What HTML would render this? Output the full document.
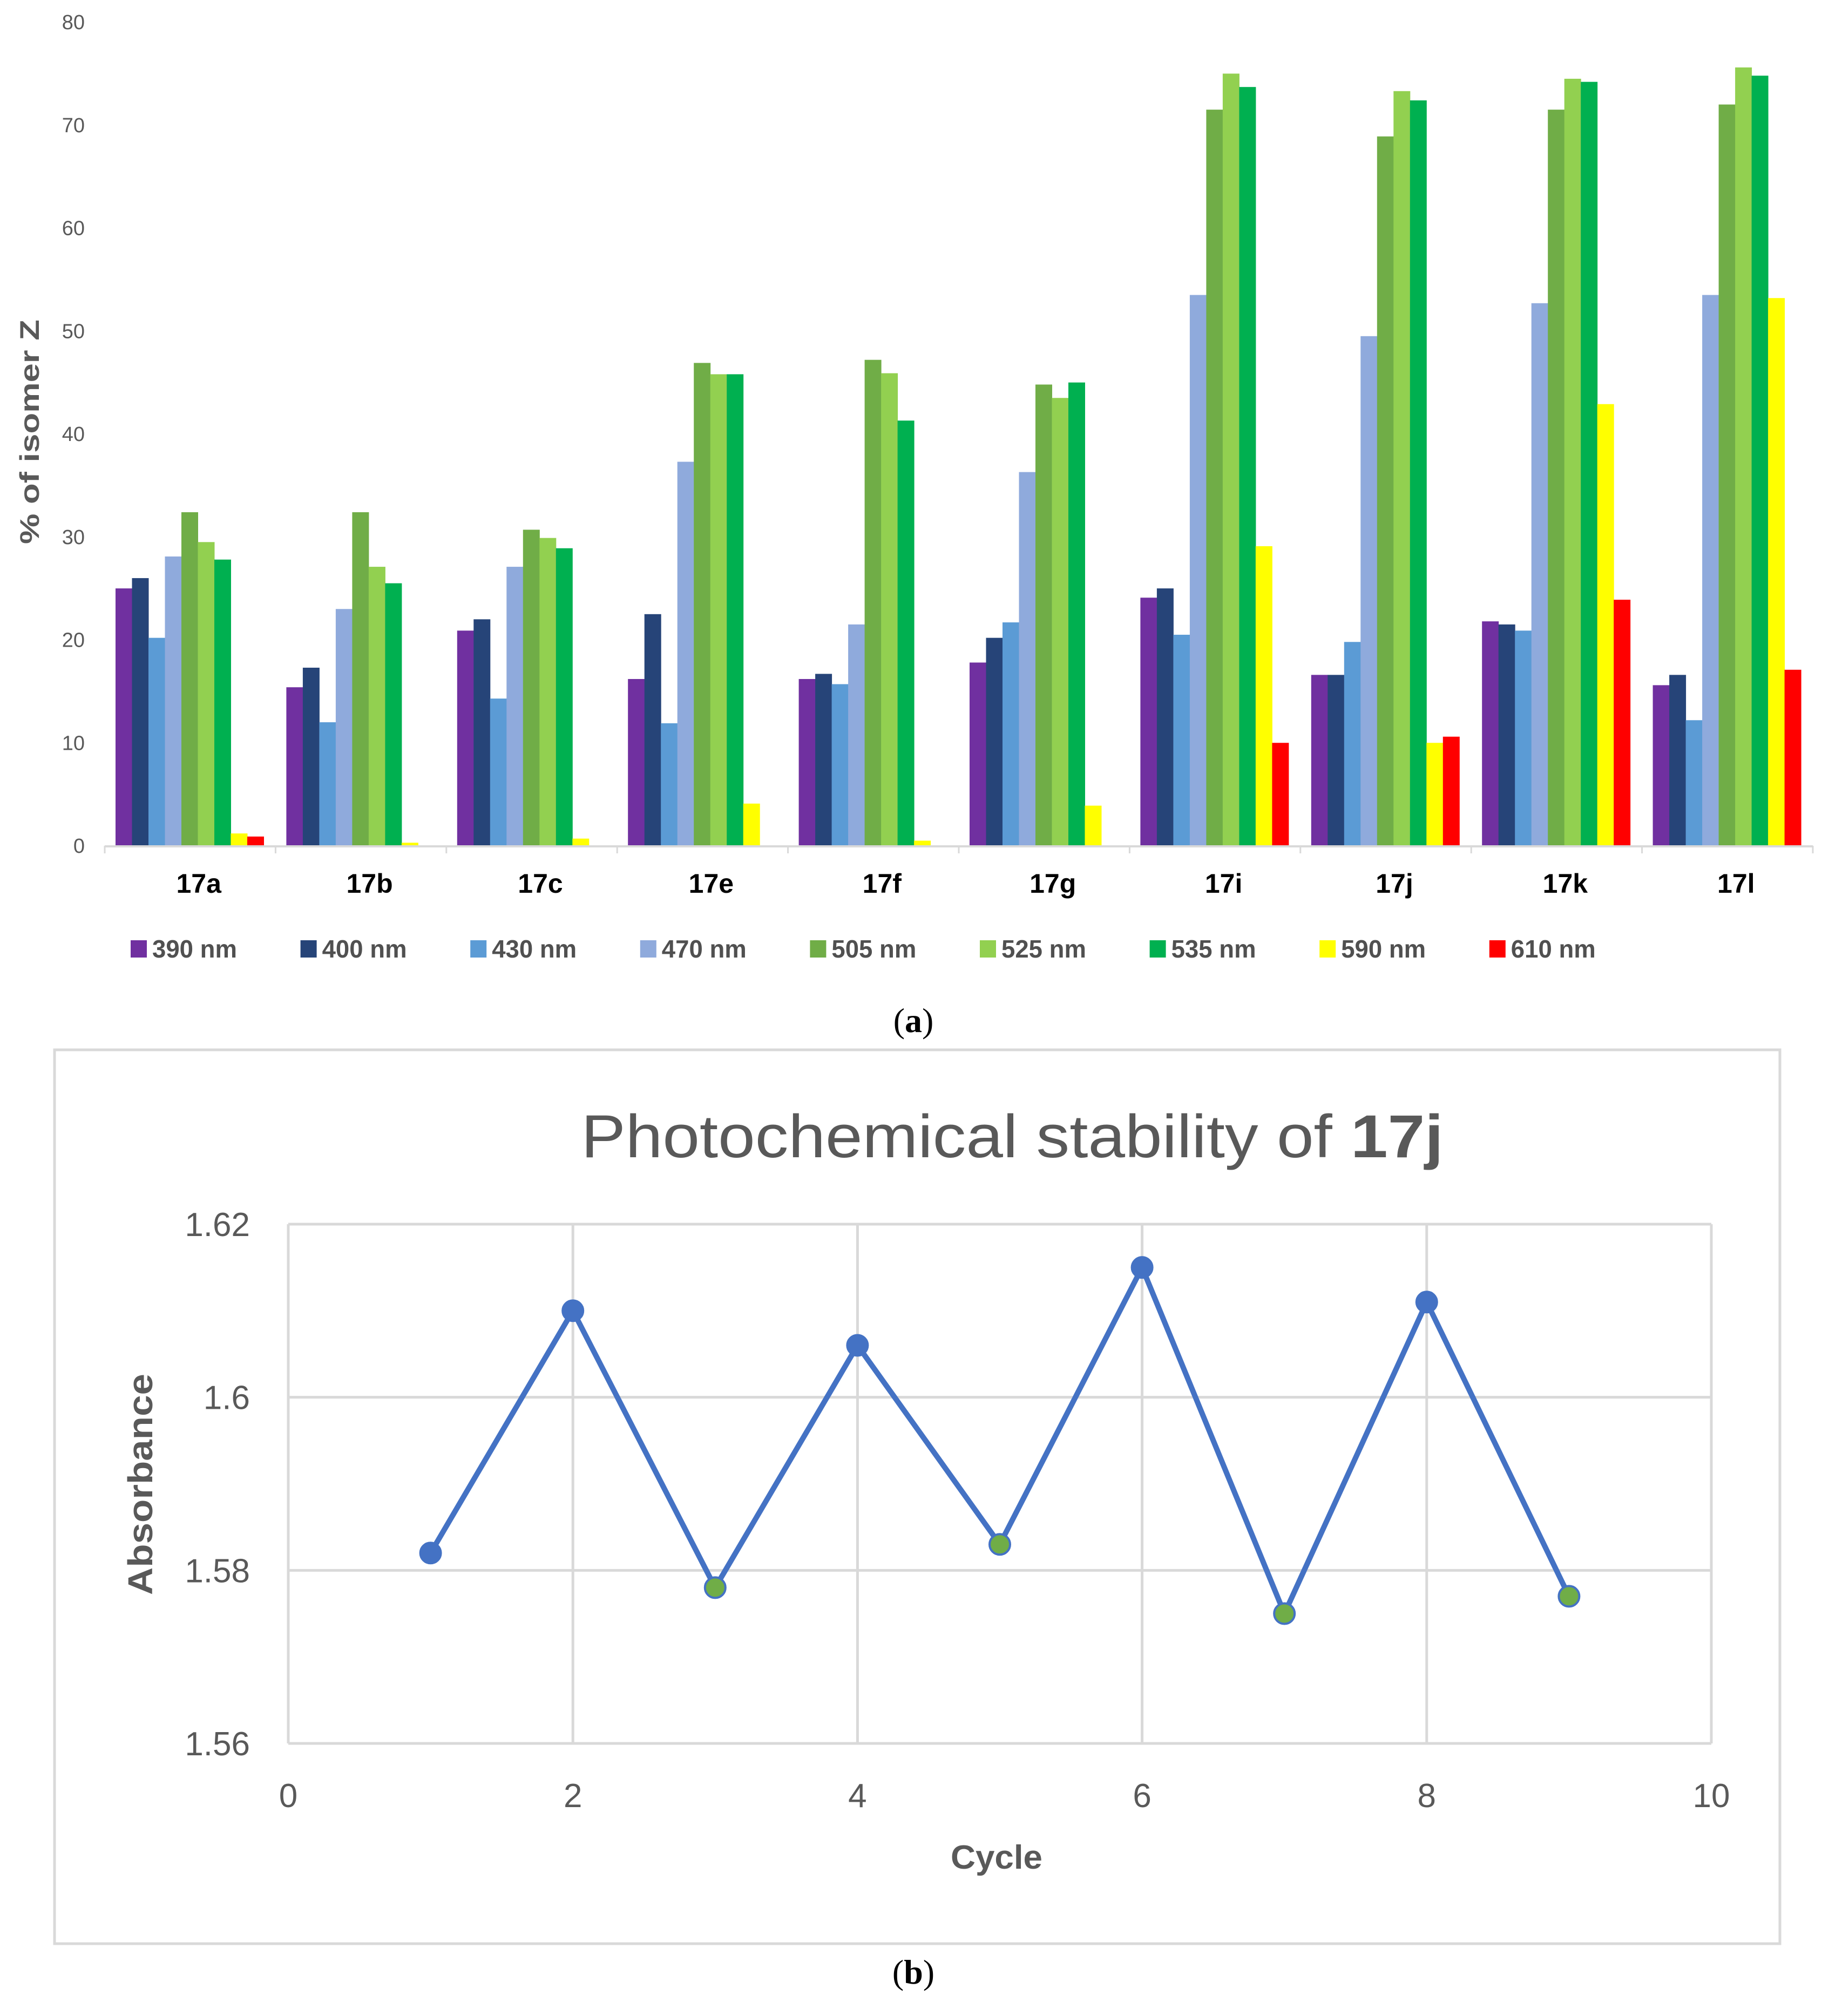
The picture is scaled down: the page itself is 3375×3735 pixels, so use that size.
<!DOCTYPE html>
<html><head><meta charset="utf-8"><style>
html,body{margin:0;padding:0;background:#fff;}
svg{display:block;}
</style></head><body>
<svg id="fig" width="3375" height="3735" viewBox="0 0 3375 3735" xmlns="http://www.w3.org/2000/svg" font-family="Liberation Sans, sans-serif">
<g id="chartA"></g>
<text x="1692" y="1912" style="font-family:'Liberation Serif',serif" font-size="64" text-anchor="middle" fill="#000">(<tspan font-weight="bold">a</tspan>)</text>
<rect x="101" y="1945" width="3196" height="1656" fill="#fff" stroke="#d9d9d9" stroke-width="5"/>
<text x="1875" y="2144" font-size="112" fill="#595959" text-anchor="middle" textLength="1597" lengthAdjust="spacingAndGlyphs">Photochemical stability of <tspan font-weight="bold">17j</tspan></text>
<g id="chartB"></g>
<text x="1846" y="3462" font-size="62" font-weight="bold" fill="#595959" text-anchor="middle" textLength="170" lengthAdjust="spacingAndGlyphs">Cycle</text>
<text transform="translate(282,2750) rotate(-90)" font-size="64" font-weight="bold" fill="#595959" text-anchor="middle" textLength="410" lengthAdjust="spacingAndGlyphs">Absorbance</text>
<text x="1692" y="3675" style="font-family:'Liberation Serif',serif" font-size="64" text-anchor="middle" fill="#000">(<tspan font-weight="bold">b</tspan>)</text>
</svg>
<script>
const NS="http://www.w3.org/2000/svg";
const categories=["17a","17b","17c","17e","17f","17g","17i","17j","17k","17l"];
const seriesNames=["390 nm","400 nm","430 nm","470 nm","505 nm","525 nm","535 nm","590 nm","610 nm"];
const seriesColors=["#7030a0","#264478","#5b9bd5","#8faadc","#70ad47","#92d050","#00b050","#ffff00","#ff0000"];
const s390=[25,15.4,20.9,16.2,16.2,17.8,24.1,16.6,21.8,15.6];
const s400=[26,17.3,22,22.5,16.7,20.2,25,16.6,21.5,16.6];
const s430=[20.2,12,14.3,11.9,15.7,21.7,20.5,19.8,20.9,12.2];
const s470=[28.1,23,27.1,37.3,21.5,36.3,53.5,49.5,52.7,53.5];
const s505=[32.4,32.4,30.7,46.9,47.2,44.8,71.5,68.9,71.5,72];
const s525=[29.5,27.1,29.9,45.8,45.9,43.5,75,73.3,74.5,75.6];
const s535=[27.8,25.5,28.9,45.8,41.3,45,73.7,72.4,74.2,74.8];
const s590=[1.2,0.3,0.7,4.1,0.5,3.9,29.1,10,42.9,53.2];
const s610=[0.9,0,0,0,0,0,10,10.6,23.9,17.1];
const yTicksA=[0,10,20,30,40,50,60,70,80];
const cycles=[1,2,3,4,5,6,7,8,9];
const absorbance=[1.582,1.610,1.578,1.606,1.583,1.615,1.575,1.611,1.577];
const xTicksB=[0,2,4,6,8,10];
const yTicksB=[1.56,1.58,1.6,1.62];

const NARROW="'Liberation Sans Narrow','Liberation Sans',sans-serif";
function mk(tag,attrs,parent){const e=document.createElementNS(NS,tag);for(const k in attrs)e.setAttribute(k,attrs[k]);parent.appendChild(e);return e;}

// Chart A
const A=document.getElementById('chartA');
const series=[s390,s400,s430,s470,s505,s525,s535,s590,s610];
const ax0=194,ax1=3358,ay0=1567,ayTop=41;
const yA=v=>ay0-(v/80)*(ay0-ayTop);
const gW=(ax1-ax0)/categories.length;
const bW=30.5,bOff=20;
yTicksA.forEach(t=>{
  const tx=mk('text',{x:157,y:yA(t)+13,'font-size':38,fill:'#595959','text-anchor':'end',style:'font-family:'+NARROW},A);
  
  
  tx.textContent=t;
});
categories.forEach((c,i)=>{
  series.forEach((s,j)=>{
    const v=s[i];
    const r=mk('rect',{x:ax0+i*gW+bOff+j*bW,y:yA(v),width:bW+0.5,height:ay0-yA(v),fill:seriesColors[j]},A);
    
    
  });
  const l=mk('text',{x:ax0+i*gW+gW/2+16,y:1654,'font-size':50,'font-weight':'bold',fill:'#000','text-anchor':'middle',style:'font-family:'+NARROW},A);
  
  
  l.textContent=c;
});
const axl=mk('line',{x1:ax0,y1:ay0+1,x2:ax1,y2:ay0+1,stroke:'#d9d9d9','stroke-width':4},A);


for(let i=0;i<=categories.length;i++){
  const tk=mk('line',{x1:ax0+i*gW,y1:ay0,x2:ax0+i*gW,y2:ay0+14,stroke:'#d9d9d9','stroke-width':3},A);
  
  
}
const yt=mk('text',{transform:'translate(72,800) rotate(-90)','font-size':50,'font-weight':'bold',fill:'#595959','text-anchor':'middle',textLength:416,lengthAdjust:'spacingAndGlyphs'},A);


yt.textContent='% of isomer Z';
seriesNames.forEach((n,j)=>{
  const lx=242+j*314.6;
  const g=mk('g',{},A);
  
  
  mk('rect',{x:lx,y:1742,width:30,height:32,fill:seriesColors[j]},g);
  const t=mk('text',{x:lx+40,y:1774,'font-size':46,'font-weight':'bold',fill:'#505050',textLength:157,lengthAdjust:'spacingAndGlyphs',style:'font-family:'+NARROW},g);
  t.textContent=n;
});

// Chart B
const B=document.getElementById('chartB');
const bx0=534,bx1=3170,by0=3230,by1=2268;
const xB=v=>bx0+(v/10)*(bx1-bx0);
const yB=v=>by0-((v-1.56)/0.06)*(by0-by1);
xTicksB.forEach(t=>{
  const gl=mk('line',{x1:xB(t),y1:by1,x2:xB(t),y2:by0,stroke:'#d9d9d9','stroke-width':5},B);
  
  
  const tx=mk('text',{x:xB(t),y:3348,'font-size':62,fill:'#595959','text-anchor':'middle',style:'font-family:'+NARROW},B);
  
  
  tx.textContent=t;
});
yTicksB.forEach(t=>{
  const gl=mk('line',{x1:bx0,y1:yB(t),x2:bx1,y2:yB(t),stroke:'#d9d9d9','stroke-width':5},B);
  
  
  const tx=mk('text',{x:463,y:yB(t)+22,'font-size':62,fill:'#595959','text-anchor':'end',style:'font-family:'+NARROW},B);
  
  
  tx.textContent=(t===1.6?'1.6':t.toFixed(2));
});
const pts=cycles.map((c,i)=>xB(c)+','+yB(absorbance[i])).join(' ');
const pl=mk('polyline',{points:pts,fill:'none',stroke:'#4472c4','stroke-width':10,'stroke-linejoin':'round'},B);


cycles.forEach((c,i)=>{
  const green=(c%2===1&&c>1);
  const m=mk('circle',{cx:xB(c),cy:yB(absorbance[i]),r:19,fill:green?'#70ad47':'#4472c4',stroke:'#4472c4','stroke-width':4},B);
  
  
});
</script>
</body></html>
